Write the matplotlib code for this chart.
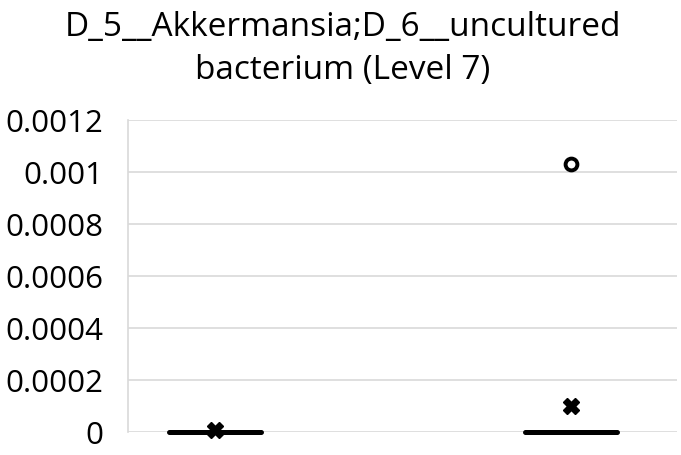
import matplotlib.pyplot as plt

# values
groups = ["Group 1", "Group 2"]
q1 = [0.0, 0.0]
medians = [0.0, 0.0]
q3 = [0.0, 0.0]
whisker_low = [0.0, 0.0]
whisker_high = [0.0, 0.0]
means = [0.000007, 0.0001]
outliers = [[], [0.00103]]
y_ticks = [0, 0.0002, 0.0004, 0.0006, 0.0008, 0.001, 0.0012]
y_tick_labels = ["0", "0.0002", "0.0004", "0.0006", "0.0008", "0.001", "0.0012"]

plt.rcParams['font.family'] = ['Open Sans', 'DejaVu Sans']

fig = plt.figure(figsize=(6.81, 4.56), dpi=100)
ax = fig.add_axes([128 / 681, 1 - 433 / 456, 549 / 681, 312 / 456])

stats = []
for i, name in enumerate(groups):
    stats.append({
        'label': name,
        'q1': q1[i], 'med': medians[i], 'q3': q3[i],
        'whislo': whisker_low[i], 'whishi': whisker_high[i],
        'mean': means[i], 'fliers': outliers[i],
    })

parts = ax.bxp(stats, positions=range(len(groups)), widths=0.258,
               showmeans=True, patch_artist=True,
               boxprops=dict(facecolor='white', edgecolor='black', linewidth=3.6),
               medianprops=dict(color='black', linewidth=3.6, solid_capstyle='round'),
               whiskerprops=dict(color='black', linewidth=3.6),
               capprops=dict(linewidth=0),
               meanprops=dict(marker='X', markerfacecolor='black', markeredgecolor='black',
                              markersize=12),
               flierprops=dict(marker='o', markerfacecolor='white', markeredgecolor='black',
                               markersize=8.5, markeredgewidth=2.8))
for key in parts:
    for artist in parts[key]:
        artist.set_clip_on(False)
        artist.set_zorder(3)

ax.set_xlim(-0.244, 1.298)
ax.set_ylim(0, 0.0012)
ax.set_yticks(y_ticks)
ax.set_yticklabels(y_tick_labels, fontsize=22.5)
ax.set_xticks([])
ax.tick_params(axis='y', length=0, pad=18)
ax.yaxis.grid(True, color='#d9d9d9', linewidth=1.2)
ax.set_axisbelow(True)
for side in ['top', 'right', 'bottom']:
    ax.spines[side].set_visible(False)
ax.spines['left'].set_color('#d9d9d9')
ax.spines['left'].set_linewidth(1.2)

fig.text(343 / 681, 1 - 49 / 456, "D_5__Akkermansia;D_6__uncultured\nbacterium (Level 7)",
         ha='center', va='center', fontsize=24, linespacing=1.38)

fig.savefig("out.png", dpi=100)
